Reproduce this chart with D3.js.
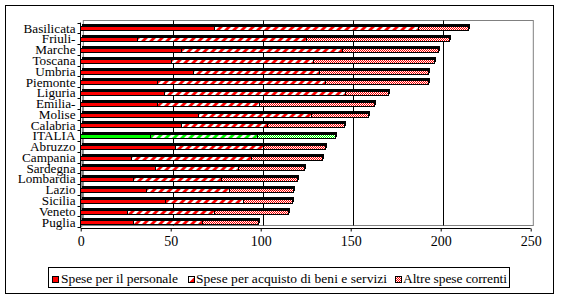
<!DOCTYPE html>
<html>
<head>
<meta charset="utf-8">
<script src="https://cdn.jsdelivr.net/npm/d3@7"></script>
<style>
  html, body { margin: 0; padding: 0; background: #fff; }
  svg { display: block; }
  svg text { font-family: "Liberation Serif", "DejaVu Serif", serif !important; fill: #000; }
</style>
</head>
<body>
<svg id="chart" width="561" height="301"></svg>
<script>
const categories = ["Basilicata","Friuli-","Marche","Toscana","Umbria","Piemonte","Liguria","Emilia-","Molise","Calabria","ITALIA","Abruzzo","Campania","Sardegna","Lombardia","Lazio","Sicilia","Veneto","Puglia"];
const personale   = [74.1,31.8,55.9,50.2,62.9,42.9,46.3,42.9,65.2,55.9,38.7,52.8,28.2,41.5,29.1,36.8,47.2,25.9,29.1];
const beniServizi = [113.3,93.9,89.8,79.4,70.0,93.0,100.8,56.4,63.0,47.8,59.5,48.5,66.6,46.1,49.2,45.8,43.5,48.2,38.8];
const altreSpese  = [28.2,79.4,52.9,67.2,60.5,57.5,24.1,64.1,31.9,42.7,43.4,34.7,39.5,37.0,42.1,35.6,27.0,41.3,30.7];
const xTicks = [0,50,100,150,200,250];
const seriesNames = ["Spese per il personale","Spese per acquisto di beni e servizi","Altre spese correnti"];
const highlight = "ITALIA";

const FONT = "'Liberation Serif', 'DejaVu Serif', serif";
const svg = d3.select("#chart");
const defs = svg.append("defs");

function makePatterns(id, color){
  const h = defs.append("pattern").attr("id","hatch"+id).attr("patternUnits","userSpaceOnUse")
    .attr("width",8).attr("height",8);
  h.append("rect").attr("width",8).attr("height",8).attr("fill","#fff");
  h.append("path").attr("d","M-2,2 L2,-2 M0,8 L8,0 M6,10 L10,6")
    .attr("stroke",color).attr("stroke-width",2.8);
  const c = defs.append("pattern").attr("id","check"+id).attr("patternUnits","userSpaceOnUse")
    .attr("width",2).attr("height",2);
  c.append("rect").attr("width",2).attr("height",2).attr("fill","#fff");
  c.append("rect").attr("width",1).attr("height",1).attr("fill",color);
  c.append("rect").attr("x",1).attr("y",1).attr("width",1).attr("height",1).attr("fill",color);
}
makePatterns("R","#ff0000");
makePatterns("G","#00ff00");

// outer border
svg.append("rect").attr("x",5.5).attr("y",5.5).attr("width",548).attr("height",288)
  .attr("fill","#fff").attr("stroke","#000");

const x = d3.scaleLinear().domain([0,250]).range([80.7,530.7]);
const y = d3.scaleBand().domain(categories).range([22.6,227.2]);
const dx = 2.6;
const yBottom = 228;

// back wall
svg.append("rect").attr("x",x(0)+dx).attr("y",20.5).attr("width",x(250)-x(0)).attr("height",205)
  .attr("fill","#fff").attr("stroke","#808080");
// left wall
svg.append("polygon")
  .attr("points",[[x(0),yBottom-5],[x(0)+dx,20.5],[x(0)+dx,225.5],[x(0),yBottom]].map(p=>p.join(",")).join(" "))
  .attr("fill","#808080");
// gridlines
svg.append("g").selectAll("line").data(xTicks.filter(v=>v>0 && v<250)).join("line")
  .attr("x1",d=>Math.round(x(d)+dx)+0.5).attr("x2",d=>Math.round(x(d)+dx)+0.5)
  .attr("y1",20.5).attr("y2",225.5).attr("stroke","#000");

// bars
const rows = categories.map((c,i)=>({cat:c, vals:[personale[i],beniServizi[i],altreSpese[i]]}));
const bw = y.bandwidth();
const barG = svg.append("g").attr("shape-rendering","crispEdges");
rows.forEach(r=>{
  const c = y(r.cat) + bw/2;
  const top = Math.round(c - 1.5), h = 4;
  const total = r.vals[0]+r.vals[1]+r.vals[2];
  const id = r.cat === highlight ? "G" : "R";
  const solid = r.cat === highlight ? "#00ff00" : "#ff0000";
  // depth (black shadow up-right)
  barG.append("rect").attr("x",x(0)+1.5).attr("y",top-2)
    .attr("width",x(total)-x(0)).attr("height",h+1).attr("fill","#000");
  const fills = [solid, "url(#hatch"+id+")", "url(#check"+id+")"];
  let acc = 0;
  r.vals.forEach((v,k)=>{
    barG.append("rect").attr("x",x(acc)).attr("y",top)
      .attr("width",x(acc+v)-x(acc)).attr("height",h)
      .attr("fill",fills[k]).attr("stroke","#000").attr("stroke-width",1);
    acc += v;
  });
});

// left axis
svg.append("line").attr("x1",80.5).attr("x2",80.5).attr("y1",22.6).attr("y2",yBottom).attr("stroke","#000");
svg.append("g").selectAll("line").data(d3.range(categories.length+1)).join("line")
  .attr("x1",77.5).attr("x2",80.5)
  .attr("y1",i=>Math.round(22.6+i*bw)+0.5).attr("y2",i=>Math.round(22.6+i*bw)+0.5)
  .attr("stroke","#000");
svg.append("g").selectAll("text").data(categories).join("text")
  .attr("x",75.5).attr("y",d=>y(d)+bw/2+4.7)
  .attr("text-anchor","end").attr("font-family",FONT).attr("font-size","13.2px").text(d=>d);

// bottom axis
const xAxis = d3.axisBottom(x).tickValues(xTicks).tickSize(3).tickPadding(5).tickFormat(d3.format("d"));
const gx = svg.append("g").attr("transform",`translate(0,${yBottom+0.5})`).call(xAxis)
  .attr("font-family",FONT);
gx.select(".domain").attr("stroke","#000").attr("d",`M${x(0)},0H${x(250)}`);
gx.selectAll(".tick line").attr("stroke","#000");
gx.selectAll(".tick text").attr("font-family",FONT).attr("font-size","14px").attr("fill","#000");

// legend
const lg = svg.append("g");
lg.append("rect").attr("x",48.5).attr("y",267.5).attr("width",461).attr("height",20)
  .attr("fill","#fff").attr("stroke","#000");
const legendItems = [
  {sx:52, tx:61, len:117},
  {sx:188, tx:196, len:191},
  {sx:395, tx:403, len:104}
];
seriesNames.forEach((name,k)=>{
  const it = legendItems[k];
  if(k===0){
    lg.append("rect").attr("x",it.sx+0.5).attr("y",276.5).attr("width",6).attr("height",6)
      .attr("fill","#ff0000").attr("stroke","#000");
  } else if(k===1){
    lg.append("rect").attr("x",it.sx+0.5).attr("y",276.5).attr("width",6).attr("height",6)
      .attr("fill","#fff").attr("stroke","#000");
    lg.append("polygon").attr("points",`${it.sx+6.5},${277} ${it.sx+6.5},${282.5} ${it.sx+1},${282.5}`)
      .attr("fill","#ff0000");
    lg.append("rect").attr("x",it.sx+0.5).attr("y",276.5).attr("width",6).attr("height",6)
      .attr("fill","none").attr("stroke","#000");
  } else {
    lg.append("rect").attr("x",it.sx+0.5).attr("y",276.5).attr("width",6).attr("height",6)
      .attr("fill","url(#checkR)").attr("stroke","#000");
  }
  lg.append("text").attr("x",it.tx).attr("y",283.3).attr("font-family",FONT).attr("font-size","13.5px")
    .attr("textLength",it.len).attr("lengthAdjust","spacing").text(name);
});
</script>
</body>
</html>
